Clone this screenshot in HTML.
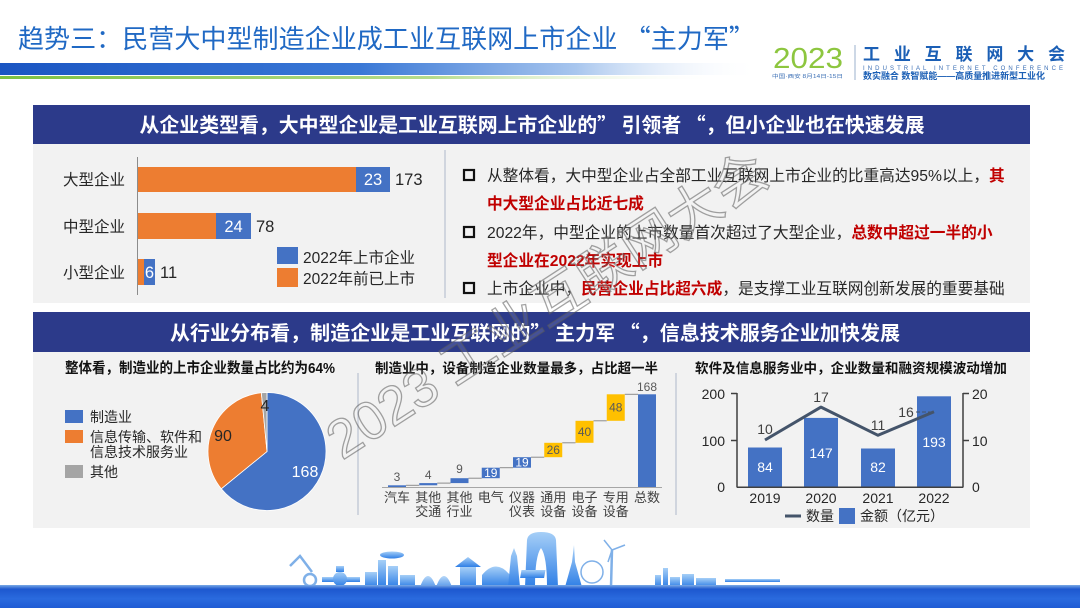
<!DOCTYPE html>
<html><head><meta charset="utf-8">
<style>
html,body{margin:0;padding:0;background:#fff;}
body{width:1080px;height:608px;overflow:hidden;position:relative;}
svg{position:absolute;left:0;top:0;}
text{font-family:"Liberation Sans","Noto Sans CJK SC",sans-serif;}
.b{font-weight:bold;}
.q{font-family:"Noto Sans CJK SC","Liberation Sans",sans-serif;}
</style></head><body>
<svg width="1080" height="608" viewBox="0 0 1080 608" xmlns="http://www.w3.org/2000/svg">
<defs>
<linearGradient id="gb" x1="0" x2="800" y1="0" y2="0" gradientUnits="userSpaceOnUse">
 <stop offset="0" stop-color="#1a55c2"/>
 <stop offset="0.45" stop-color="#3a78d6"/>
 <stop offset="0.72" stop-color="#a8c6ee"/>
 <stop offset="0.95" stop-color="#ffffff" stop-opacity="0"/>
</linearGradient>
<linearGradient id="gg" x1="0" x2="720" y1="0" y2="0" gradientUnits="userSpaceOnUse">
 <stop offset="0" stop-color="#7dc242"/>
 <stop offset="0.6" stop-color="#b6dc8c"/>
 <stop offset="1" stop-color="#ffffff" stop-opacity="0"/>
</linearGradient>
<linearGradient id="sea" x1="0" y1="0" x2="0" y2="1">
 <stop offset="0" stop-color="#7aaae6"/>
 <stop offset="0.18" stop-color="#1d58cf"/>
 <stop offset="0.6" stop-color="#2a6ade"/>
 <stop offset="1" stop-color="#1f5bd4"/>
</linearGradient>
<linearGradient id="sky" x1="0" y1="0" x2="0" y2="1">
 <stop offset="0" stop-color="#a6cff7"/>
 <stop offset="1" stop-color="#2f7fe6"/>
</linearGradient>
</defs>

<!-- Title -->
<text x="18" y="48" font-size="26" fill="#2069c4" textLength="737" lengthAdjust="spacingAndGlyphs">趋势三：民营大中型制造企业成工业互联网上市企业 <tspan class="q">“</tspan>主力军<tspan class="q">”</tspan></text>
<rect x="0" y="63" width="800" height="12" fill="url(#gb)"/>
<rect x="0" y="76" width="720" height="3" fill="url(#gg)"/>

<!-- Logo -->
<text x="773" y="68" font-size="29" fill="#8dc63f" textLength="70" lengthAdjust="spacingAndGlyphs">2023</text>
<text x="772" y="78" font-size="5" fill="#3b6fb5" textLength="71" lengthAdjust="spacingAndGlyphs">中国·西安  8月14日-15日</text>
<line x1="855" y1="45" x2="855" y2="80" stroke="#9bb0cc" stroke-width="1"/>
<text x="863" y="60" font-size="17" class="b" fill="#1b5fb5" textLength="202" lengthAdjust="spacing">工业互联网大会</text>
<text x="863" y="70" font-size="6" fill="#3b6fb5" textLength="200" lengthAdjust="spacing">INDUSTRIAL INTERNET CONFERENCE</text>
<text x="863" y="79" font-size="9" class="b" fill="#1b5fb5" textLength="182" lengthAdjust="spacingAndGlyphs">数实融合  数智赋能——高质量推进新型工业化</text>

<!-- Panels -->
<rect x="33" y="105" width="997" height="39" fill="#2c3a8a"/>
<rect x="33" y="144" width="997" height="159" fill="#f2f2f2"/>
<rect x="33" y="312" width="997" height="40" fill="#2c3a8a"/>
<rect x="33" y="352" width="997" height="176" fill="#f2f2f2"/>

<text x="532" y="132" font-size="20" class="b" fill="#fff" text-anchor="middle" textLength="785" lengthAdjust="spacingAndGlyphs">从企业类型看，大中型企业是工业互联网上市企业的<tspan class="q">” </tspan>引领者<tspan class="q"> “</tspan>，但小企业也在快速发展</text>
<text x="535" y="340" font-size="20" class="b" fill="#fff" text-anchor="middle" textLength="730" lengthAdjust="spacingAndGlyphs">从行业分布看，制造企业是工业互联网的<tspan class="q">” </tspan>主力军<tspan class="q"> “</tspan>，信息技术服务企业加快发展</text>

<!-- Left bar chart -->
<line x1="137.5" y1="157" x2="137.5" y2="295" stroke="#8c8c8c" stroke-width="1"/>
<text x="63" y="185" font-size="15.5" fill="#262626">大型企业</text>
<text x="63" y="232" font-size="15.5" fill="#262626">中型企业</text>
<text x="63" y="278" font-size="15.5" fill="#262626">小型企业</text>
<rect x="138" y="167" width="218" height="25" fill="#ed7d31"/>
<rect x="356" y="167" width="34" height="25" fill="#4472c4"/>
<rect x="138" y="213" width="78" height="26" fill="#ed7d31"/>
<rect x="216" y="213" width="35" height="26" fill="#4472c4"/>
<rect x="138" y="259" width="6" height="26" fill="#ed7d31"/>
<rect x="144" y="259" width="11" height="26" fill="#4472c4"/>
<text x="373" y="185" font-size="16.5" fill="#fff" text-anchor="middle">23</text>
<text x="395" y="185" font-size="16.5" fill="#262626">173</text>
<text x="233.5" y="232" font-size="16.5" fill="#fff" text-anchor="middle">24</text>
<text x="256" y="232" font-size="16.5" fill="#262626">78</text>
<text x="149.5" y="278" font-size="16.5" fill="#fff" text-anchor="middle">6</text>
<text x="160" y="278" font-size="16.5" fill="#262626">11</text>
<rect x="277" y="247" width="21" height="17" fill="#4472c4"/>
<text x="303" y="263" font-size="15.5" fill="#262626">2022年上市企业</text>
<rect x="277" y="268" width="21" height="19" fill="#ed7d31"/>
<text x="303" y="284" font-size="15.5" fill="#262626">2022年前已上市</text>
<line x1="445" y1="150" x2="445" y2="298" stroke="#c5cbd8" stroke-width="1.5"/>

<!-- Right text -->
<g fill="none" stroke="#111" stroke-width="2.2">
 <rect x="464" y="170" width="10" height="10"/>
 <rect x="464" y="227" width="10" height="10"/>
 <rect x="464" y="283" width="10" height="10"/>
</g>
<text x="487" y="181" font-size="15.7" fill="#262626">从整体看，大中型企业占全部工业互联网上市企业的比重高达95%以上，<tspan class="b" fill="#c00000">其</tspan></text>
<text x="487" y="209" font-size="15.7" class="b" fill="#c00000">中大型企业占比近七成</text>
<text x="487" y="238" font-size="15.7" fill="#262626">2022年，中型企业的上市数量首次超过了大型企业，<tspan class="b" fill="#c00000">总数中超过一半的小</tspan></text>
<text x="487" y="266" font-size="15.7" class="b" fill="#c00000">型企业在2022年实现上市</text>
<text x="487" y="294" font-size="15.7" fill="#262626">上市企业中，<tspan class="b" fill="#c00000">民营企业占比超六成</tspan>，是支撑工业互联网创新发展的重要基础</text>

<!-- Pie section -->
<text x="65" y="373" font-size="14.5" class="b" fill="#111" textLength="270" lengthAdjust="spacingAndGlyphs">整体看，制造业的上市企业数量占比约为64%</text>
<rect x="65" y="410" width="18" height="13" fill="#4472c4"/>
<text x="90" y="422" font-size="14" fill="#262626">制造业</text>
<rect x="65" y="430" width="18" height="13" fill="#ed7d31"/>
<text x="90" y="442" font-size="14" fill="#262626">信息传输、软件和</text>
<text x="90" y="457" font-size="14" fill="#262626">信息技术服务业</text>
<rect x="65" y="465" width="18" height="13" fill="#a5a5a5"/>
<text x="90" y="477" font-size="14" fill="#262626">其他</text>
<path d="M267,451.5 L267,392.5 A59,59 0 1 1 221.26,488.77 Z" fill="#4472c4" stroke="#fff" stroke-width="0.8"/>
<path d="M267,451.5 L221.26,488.77 A59,59 0 0 1 261.35,392.77 Z" fill="#ed7d31" stroke="#fff" stroke-width="0.8"/>
<path d="M267,451.5 L261.35,392.77 A59,59 0 0 1 267,392.5 Z" fill="#a5a5a5" stroke="#fff" stroke-width="0.8"/>
<text x="265" y="411" font-size="16" fill="#262626" text-anchor="middle">4</text>
<text x="223" y="441" font-size="16" fill="#262626" text-anchor="middle">90</text>
<text x="305" y="477" font-size="16" fill="#fff" text-anchor="middle">168</text>
<line x1="358" y1="373" x2="358" y2="515" stroke="#c5cbd8" stroke-width="1.5"/>

<!-- Waterfall -->
<text x="375" y="373" font-size="13.8" class="b" fill="#111" textLength="283" lengthAdjust="spacingAndGlyphs">制造业中，设备制造企业数量最多，占比超一半</text>
<g stroke="#8c8c8c" stroke-width="1">
 <line x1="406" y1="485.3" x2="419.25" y2="485.3"/>
 <line x1="437.25" y1="483.1" x2="450.5" y2="483.1"/>
 <line x1="468.5" y1="478.2" x2="481.75" y2="478.2"/>
 <line x1="499.75" y1="467.7" x2="513" y2="467.7"/>
 <line x1="531" y1="457.2" x2="544.25" y2="457.2"/>
 <line x1="562.25" y1="442.8" x2="575.5" y2="442.8"/>
 <line x1="593.5" y1="420.8" x2="606.75" y2="420.8"/>
 <line x1="624.75" y1="394.3" x2="638" y2="394.3"/>
</g>
<rect x="388" y="485.3" width="18" height="1.7" fill="#4472c4"/>
<rect x="419.25" y="483.1" width="18" height="2.2" fill="#4472c4"/>
<rect x="450.5" y="478.2" width="18" height="4.9" fill="#4472c4"/>
<rect x="481.75" y="467.7" width="18" height="10.5" fill="#4472c4"/>
<rect x="513" y="457.2" width="18" height="10.5" fill="#4472c4"/>
<rect x="544.25" y="442.8" width="18" height="14.4" fill="#ffc000"/>
<rect x="575.5" y="420.8" width="18" height="22" fill="#ffc000"/>
<rect x="606.75" y="394.3" width="18" height="26.5" fill="#ffc000"/>
<rect x="638" y="394.3" width="18" height="92.7" fill="#4472c4"/>
<line x1="382" y1="487.5" x2="662" y2="487.5" stroke="#a6a6a6" stroke-width="1"/>
<g font-size="12" text-anchor="middle">
 <text x="397" y="481" fill="#595959">3</text>
 <text x="428.25" y="479" fill="#595959">4</text>
 <text x="459.5" y="473" fill="#595959">9</text>
 <text x="490.75" y="477" fill="#fff">19</text>
 <text x="522" y="466.5" fill="#fff">19</text>
 <text x="553.25" y="454" fill="#595959">26</text>
 <text x="584.5" y="436" fill="#595959">40</text>
 <text x="615.75" y="411.5" fill="#595959">48</text>
 <text x="647" y="391" fill="#595959">168</text>
</g>
<g font-size="13" fill="#404040" text-anchor="middle">
 <text x="397" y="502">汽车</text>
 <text x="428.25" y="502">其他</text><text x="428.25" y="516">交通</text>
 <text x="459.5" y="502">其他</text><text x="459.5" y="516">行业</text>
 <text x="490.75" y="502">电气</text>
 <text x="522" y="502">仪器</text><text x="522" y="516">仪表</text>
 <text x="553.25" y="502">通用</text><text x="553.25" y="516">设备</text>
 <text x="584.5" y="502">电子</text><text x="584.5" y="516">设备</text>
 <text x="615.75" y="502">专用</text><text x="615.75" y="516">设备</text>
 <text x="647" y="502">总数</text>
</g>
<line x1="676" y1="373" x2="676" y2="515" stroke="#c5cbd8" stroke-width="1.5"/>

<!-- Right combo chart -->
<text x="695" y="373" font-size="13.8" class="b" fill="#111" textLength="312" lengthAdjust="spacingAndGlyphs">软件及信息服务业中，企业数量和融资规模波动增加</text>
<rect x="748" y="447.5" width="34" height="39.5" fill="#4472c4"/>
<rect x="804" y="417.9" width="34" height="69.1" fill="#4472c4"/>
<rect x="861" y="448.5" width="34" height="38.5" fill="#4472c4"/>
<rect x="917" y="396.3" width="34" height="90.7" fill="#4472c4"/>
<g stroke="#404040" stroke-width="1.5">
 <line x1="737" y1="393" x2="737" y2="487.5"/>
 <line x1="731" y1="393.5" x2="737" y2="393.5"/>
 <line x1="731" y1="440.5" x2="737" y2="440.5"/>
 <line x1="963" y1="393" x2="963" y2="487.5"/>
 <line x1="963" y1="393.5" x2="969" y2="393.5"/>
 <line x1="963" y1="440.5" x2="969" y2="440.5"/>
 <line x1="737" y1="487.3" x2="963" y2="487.3"/>
</g>
<polyline points="765,440 821,407.1 878,435.3 934,411.8" fill="none" stroke="#44546a" stroke-width="3" stroke-linejoin="round"/>
<line x1="916" y1="412" x2="932" y2="412" stroke="#44546a" stroke-width="1" stroke-dasharray="4,2"/>
<g font-size="14" fill="#262626">
 <text x="725" y="399" text-anchor="end">200</text>
 <text x="725" y="446" text-anchor="end">100</text>
 <text x="725" y="492" text-anchor="end">0</text>
 <text x="972" y="399">20</text>
 <text x="972" y="446">10</text>
 <text x="972" y="492">0</text>
</g>
<g font-size="14" text-anchor="middle">
 <text x="765" y="472" fill="#fff">84</text>
 <text x="821" y="458" fill="#fff">147</text>
 <text x="878" y="472" fill="#fff">82</text>
 <text x="934" y="447" fill="#fff">193</text>
 <text x="765" y="434" fill="#404040">10</text>
 <text x="821" y="402" fill="#404040">17</text>
 <text x="878" y="430" fill="#404040">11</text>
 <text x="906" y="417" fill="#404040">16</text>
 <text x="765" y="503" fill="#262626">2019</text>
 <text x="821" y="503" fill="#262626">2020</text>
 <text x="878" y="503" fill="#262626">2021</text>
 <text x="934" y="503" fill="#262626">2022</text>
</g>
<line x1="785" y1="516" x2="801" y2="516" stroke="#44546a" stroke-width="3"/>
<text x="806" y="521" font-size="14" fill="#262626">数量</text>
<rect x="839" y="508" width="16" height="16" fill="#4472c4"/>
<text x="860" y="521" font-size="14" fill="#262626">金额（亿元）</text>

<!-- Bottom skyline -->
<g fill="url(#sky)">
 <rect x="322" y="577" width="38" height="5"/>
 <circle cx="340" cy="579" r="7"/>
 <rect x="336" y="566" width="8" height="6"/>
 <rect x="365" y="572" width="12" height="15"/>
 <rect x="378" y="560" width="8" height="27"/>
 <rect x="388" y="566" width="10" height="21"/>
 <rect x="400" y="575" width="15" height="12"/>
 <ellipse cx="392" cy="555" rx="12" ry="3.5"/>
 <path d="M420,587 Q428,565 436,587 Q444,565 452,587 Z" opacity="0.8"/>
 <polygon points="455,567 481,567 468,557"/>
 <rect x="460" y="567" width="16" height="20"/>
 <path d="M482,587 L482,575 Q496,558 510,575 L510,587 Z"/>
 <polygon points="508,587 520,587 517,556 514,548 511,556"/>
 <path d="M525,587 L527,540 Q528,532 541,532 Q555,532 556,540 L558,587 L547,587 Q547,556 541,548 Q535,556 535,587 Z"/>
 <polygon points="565,587 582,587 575,562 574,545 572,562"/>
 <rect x="622" y="570" width="24" height="8" transform="skewX(-10)"/>
 <rect x="655" y="575" width="6" height="12"/>
 <rect x="663" y="568" width="5" height="19"/>
 <rect x="670" y="577" width="10" height="10"/>
 <rect x="682" y="574" width="12" height="13"/>
 <rect x="696" y="578" width="20" height="9"/>
 <rect x="725" y="579" width="55" height="3"/>
</g>
<g fill="none" stroke="#7fb0e8" stroke-width="2.5">
 <path d="M290,566 L300,556 L312,572"/>
 <circle cx="310" cy="580" r="6"/>
 <circle cx="592" cy="572" r="11" stroke-width="1.5"/>
 <line x1="611" y1="587" x2="612" y2="550"/>
 <line x1="612" y1="550" x2="625" y2="545" stroke-width="1.5"/>
 <line x1="612" y1="550" x2="604" y2="540" stroke-width="1.5"/>
 <line x1="612" y1="550" x2="608" y2="562" stroke-width="1.5"/>
</g>
<rect x="0" y="585" width="1080" height="23" fill="url(#sea)"/>

<!-- Watermark -->
<text transform="translate(547,305) rotate(-33)" x="0" y="19" font-size="54" text-anchor="middle" fill="rgba(255,255,255,0.12)" stroke="rgba(90,90,90,0.55)" stroke-width="1.3">2023 工业互联网大会</text>
</svg>
</body></html>
